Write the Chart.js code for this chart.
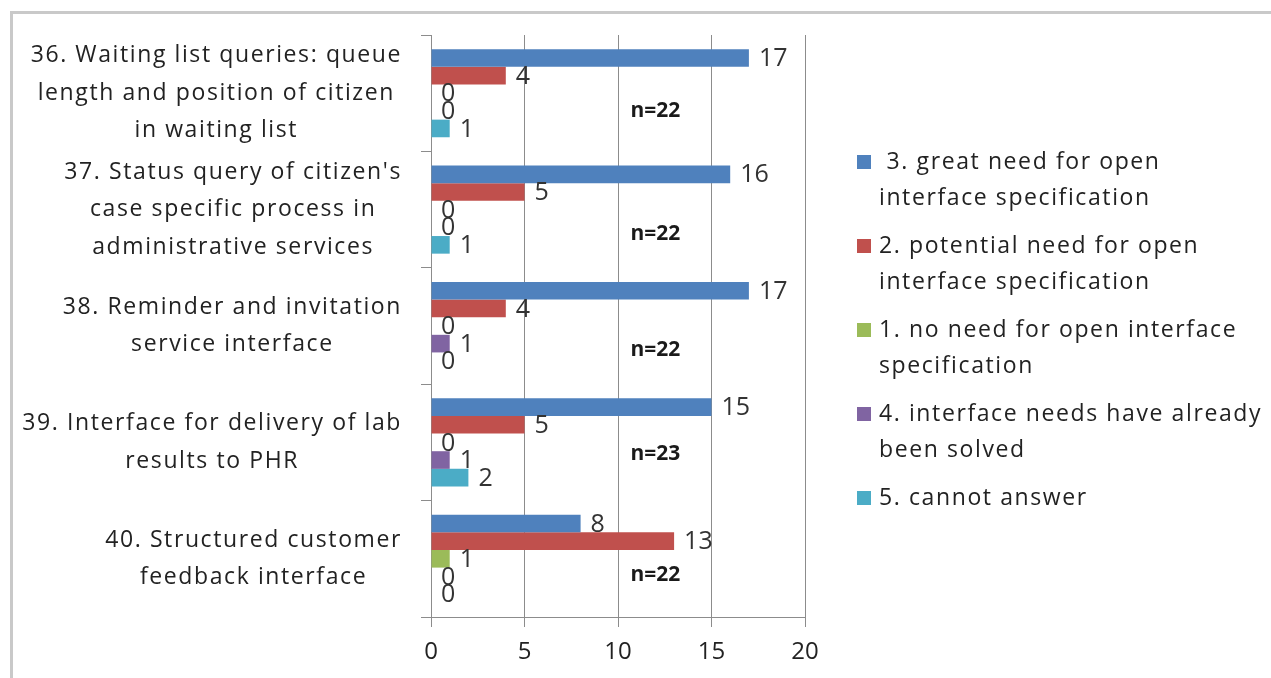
<!DOCTYPE html>
<html>
<head>
<meta charset="utf-8">
<title>Interface needs by service</title>
<script src="https://cdn.jsdelivr.net/npm/chart.js@4/dist/chart.umd.min.js"></script>
<style>
  html, body { margin: 0; padding: 0; background: #ffffff; }
  #wrap { position: relative; width: 1271px; height: 678px; overflow: hidden; }
  #frame {
    position: absolute; left: 10px; top: 11px; width: 1300px; height: 700px;
    border-top: 3px solid #c9c9c9; border-left: 3px solid #c9c9c9;
    box-sizing: border-box; pointer-events: none;
  }
  #chart { position: absolute; left: 0; top: 0; }
</style>
</head>
<body>
<div id="wrap">
  <div id="frame"></div>
  <canvas id="chart" width="1271" height="678"></canvas>
</div>
<script>
// Survey items (one label line per array entry)
const categories = [
  ["36. Waiting list queries: queue", "length and position of citizen", "in waiting list"],
  ["37. Status query of citizen's", "case specific process in", "administrative services"],
  ["38. Reminder and invitation", "service interface"],
  ["39. Interface for delivery of lab", "results to PHR"],
  ["40. Structured customer", "feedback interface"]
];

// Answer options, in drawing order (top bar first)
const seriesNames = [
  [" 3. great need for open", "interface specification"],
  ["2. potential need for open", "interface specification"],
  ["1. no need for open interface", "specification"],
  ["4. interface needs have already", "been solved"],
  ["5. cannot answer"]
];

// Number of answers per option
const greatNeed     = [17, 16, 17, 15, 8];
const potentialNeed = [4, 5, 4, 5, 13];
const noNeed        = [0, 0, 0, 0, 1];
const alreadySolved = [0, 0, 1, 1, 0];
const cannotAnswer  = [1, 1, 0, 2, 0];

// Respondents per item
const respondents = [22, 22, 22, 23, 22];

const xTicks = [0, 5, 10, 15, 20];

const seriesColors = ["#4f81bd", "#c0504d", "#9bbb59", "#8064a2", "#4bacc6"];
const seriesValues = [greatNeed, potentialNeed, noNeed, alreadySolved, cannotAnswer];

// Where the "n=" notes sit: x in axis units, y as pixel offset from the band centre
const noteX = 12;
const noteDy = [18, 24, 24, 12, 16];

const FONT = "'Open Sans', 'DejaVu Sans', sans-serif";
const GRID = "#8c8c8c";

const valueLabels = {
  id: 'valueLabels',
  afterDatasetsDraw(chart) {
    const ctx = chart.ctx;
    ctx.save();
    ctx.font = "25px " + FONT;
    ctx.fillStyle = "#333333";
    ctx.textAlign = "left";
    ctx.textBaseline = "middle";
    chart.data.datasets.forEach((ds, di) => {
      chart.getDatasetMeta(di).data.forEach((bar, i) => {
        ctx.fillText(String(ds.data[i]), bar.x + 10, bar.y + 1);
      });
    });
    ctx.restore();
  }
};

const sideText = {
  id: 'sideText',
  afterDraw(chart) {
    const ctx = chart.ctx;
    const ys = chart.scales.y;
    const xs = chart.scales.x;
    ctx.save();

    // item labels: each block right-aligned, lines centred within the block
    ctx.font = "23px " + FONT;
    ctx.letterSpacing = "1.6px";
    ctx.fillStyle = "#222222";
    ctx.textBaseline = "middle";
    ctx.textAlign = "center";
    const lineH = 37.5;
    const right = 401;
    categories.forEach((lines, i) => {
      const w = Math.max(...lines.map(l => ctx.measureText(l).width));
      const cx = right - w / 2;
      const cy = ys.getPixelForValue(i);
      const y0 = cy - (lines.length - 1) * lineH / 2;
      lines.forEach((l, k) => ctx.fillText(l, cx + 1, y0 + k * lineH));
    });

    // legend
    ctx.textAlign = "left";
    let y = 162;
    seriesNames.forEach((lines, i) => {
      ctx.fillStyle = seriesColors[i];
      ctx.fillRect(857, y - 7, 14, 14);
      ctx.fillStyle = "#222222";
      lines.forEach((l, k) => ctx.fillText(l, 879, y + k * 36));
      y += lines.length * 36 + 12;
    });

    // respondent counts
    ctx.letterSpacing = "0px";
    ctx.font = "bold 21px " + FONT;
    ctx.fillStyle = "#1a1a1a";
    ctx.textAlign = "center";
    respondents.forEach((n, i) => {
      ctx.fillText("n=" + n, xs.getPixelForValue(noteX), ys.getPixelForValue(i) + noteDy[i]);
    });
    ctx.restore();
  }
};

new Chart(document.getElementById('chart'), {
  type: 'bar',
  data: {
    labels: categories.map(c => c.join(' ')),
    datasets: seriesValues.map((vals, i) => ({
      label: seriesNames[i].join(' ').trim(),
      data: vals,
      backgroundColor: seriesColors[i],
      borderWidth: 0,
      barPercentage: 1,
      categoryPercentage: 0.757
    }))
  },
  options: {
    indexAxis: 'y',
    responsive: false,
    animation: false,
    layout: { padding: { top: 35, right: 466, left: 0, bottom: 0 } },
    plugins: { legend: { display: false }, tooltip: { enabled: false } },
    scales: {
      x: {
        min: 0, max: 20,
        afterBuildTicks(scale) { scale.ticks = xTicks.map(v => ({ value: v })); },
        afterFit(scale) { scale.height = 61; },
        ticks: { font: { family: FONT, size: 24 }, color: "#222222", padding: 11 },
        grid: { color: GRID, tickLength: 10, lineWidth: 1 },
        border: { color: GRID, width: 1 }
      },
      y: {
        afterFit(scale) { scale.width = 431; },
        ticks: { display: false },
        grid: { drawOnChartArea: false, color: GRID, tickLength: 10, offset: true },
        border: { color: GRID, width: 1 }
      }
    }
  },
  plugins: [valueLabels, sideText]
});
</script>
</body>
</html>
